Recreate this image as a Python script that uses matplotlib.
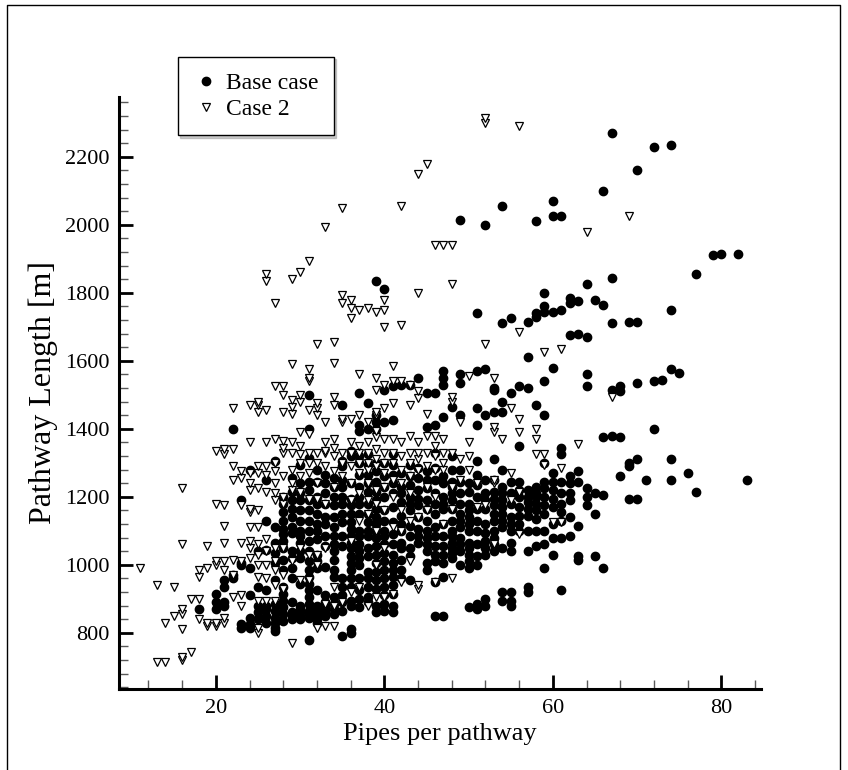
import matplotlib
matplotlib.use("Agg")
import matplotlib.pyplot as plt
from matplotlib.ticker import MultipleLocator
from matplotlib.lines import Line2D

plt.rcParams['font.family'] = ['Liberation Serif', 'DejaVu Serif']

# Base case: (pipes per pathway, pathway length)
base_points = [
    (18, 870),
    (20, 870), (20, 890), (20, 915),
    (21, 880), (21, 890), (21, 935), (21, 955),
    (22, 960), (22, 970), (22, 1400),
    (23, 815), (23, 825), (23, 1000), (23, 1005), (23, 1190),
    (24, 815), (24, 825), (24, 845), (24, 910), (24, 990), (24, 1280),
    (25, 840), (25, 860), (25, 880), (25, 935), (25, 1040),
    (26, 830), (26, 850), (26, 870), (26, 880), (26, 925), (26, 1045), (26, 1130), (26, 1250),
    (27, 805), (27, 815), (27, 830), (27, 845), (27, 865), (27, 885), (27, 955), (27, 1005),
    (27, 1035), (27, 1065), (27, 1110), (27, 1305),
    (28, 835), (28, 855), (28, 875), (28, 895), (28, 915), (28, 935), (28, 985), (28, 1015),
    (28, 1050), (28, 1070), (28, 1090), (28, 1105), (28, 1130), (28, 1155), (28, 1180), (28, 1200),
    (29, 840), (29, 850), (29, 860), (29, 890), (29, 960), (29, 990), (29, 1020), (29, 1040),
    (29, 1095), (29, 1110), (29, 1140), (29, 1165), (29, 1190), (29, 1215), (29, 1255),
    (30, 840), (30, 850), (30, 860), (30, 870), (30, 880), (30, 945), (30, 1020), (30, 1040),
    (30, 1065), (30, 1085), (30, 1100), (30, 1130), (30, 1160), (30, 1190), (30, 1210),
    (30, 1240), (30, 1295),
    (31, 780), (31, 845), (31, 855), (31, 865), (31, 885), (31, 905), (31, 925), (31, 945),
    (31, 965), (31, 985), (31, 1010), (31, 1040), (31, 1070), (31, 1100), (31, 1130), (31, 1160),
    (31, 1190), (31, 1220), (31, 1245), (31, 1315), (31, 1400), (31, 1500),
    (32, 830), (32, 840), (32, 850), (32, 860), (32, 870), (32, 880), (32, 925), (32, 990),
    (32, 1010), (32, 1030), (32, 1075), (32, 1100), (32, 1120), (32, 1150), (32, 1180),
    (32, 1200), (32, 1245), (32, 1280),
    (33, 850), (33, 860), (33, 870), (33, 880), (33, 890), (33, 910), (33, 995), (33, 1055),
    (33, 1085), (33, 1120), (33, 1140), (33, 1180), (33, 1210), (33, 1240), (33, 1265),
    (34, 855), (34, 870), (34, 885), (34, 905), (34, 965), (34, 985), (34, 1015), (34, 1040),
    (34, 1060), (34, 1085), (34, 1110), (34, 1140), (34, 1175), (34, 1200), (34, 1230), (34, 1255),
    (35, 790), (35, 865), (35, 890), (35, 910), (35, 935), (35, 960), (35, 1055), (35, 1085),
    (35, 1125), (35, 1150), (35, 1180), (35, 1200), (35, 1230), (35, 1250), (35, 1290),
    (35, 1305), (35, 1470),
    (36, 800), (36, 810), (36, 880), (36, 895), (36, 935), (36, 960), (36, 985), (36, 1005),
    (36, 1025), (36, 1050), (36, 1065), (36, 1085), (36, 1105), (36, 1125), (36, 1150),
    (36, 1175), (36, 1195), (36, 1240), (36, 1320), (36, 1335),
    (37, 875), (37, 900), (37, 925), (37, 960), (37, 1000), (37, 1020), (37, 1040), (37, 1060),
    (37, 1085), (37, 1100), (37, 1150), (37, 1180), (37, 1200), (37, 1230), (37, 1265),
    (37, 1300), (37, 1320), (37, 1395), (37, 1410), (37, 1505),
    (38, 890), (38, 905), (38, 935), (38, 960), (38, 980), (38, 1025), (38, 1050), (38, 1085),
    (38, 1100), (38, 1125), (38, 1150), (38, 1180), (38, 1215), (38, 1240), (38, 1265),
    (38, 1295), (38, 1325), (38, 1400), (38, 1475),
    (39, 860), (39, 880), (39, 930), (39, 955), (39, 980), (39, 1005), (39, 1030), (39, 1055),
    (39, 1080), (39, 1100), (39, 1120), (39, 1140), (39, 1165), (39, 1190), (39, 1215),
    (39, 1245), (39, 1275), (39, 1300), (39, 1400), (39, 1420), (39, 1440), (39, 1835),
    (40, 865), (40, 885), (40, 910), (40, 935), (40, 960), (40, 985), (40, 1010), (40, 1035),
    (40, 1060), (40, 1085), (40, 1100), (40, 1130), (40, 1160), (40, 1200), (40, 1230),
    (40, 1260), (40, 1300), (40, 1420), (40, 1515), (40, 1810),
    (41, 860), (41, 880), (41, 915), (41, 940), (41, 965), (41, 985), (41, 1005), (41, 1030),
    (41, 1060), (41, 1090), (41, 1125), (41, 1170), (41, 1210), (41, 1240), (41, 1265),
    (41, 1295), (41, 1325), (41, 1425), (41, 1525),
    (42, 960), (42, 985), (42, 1015), (42, 1050), (42, 1065), (42, 1100), (42, 1120), (42, 1145),
    (42, 1185), (42, 1210), (42, 1230), (42, 1270), (42, 1530),
    (43, 955), (43, 1025), (43, 1050), (43, 1085), (43, 1115), (43, 1160), (43, 1180), (43, 1200),
    (43, 1235), (43, 1260), (43, 1295), (43, 1530),
    (44, 1065), (44, 1085), (44, 1105), (44, 1140), (44, 1175), (44, 1195), (44, 1220),
    (44, 1255), (44, 1285), (44, 1550),
    (45, 985), (45, 1005), (45, 1040), (45, 1060), (45, 1080), (45, 1100), (45, 1130), (45, 1165),
    (45, 1190), (45, 1225), (45, 1250), (45, 1275), (45, 1405), (45, 1505),
    (46, 850), (46, 950), (46, 1010), (46, 1030), (46, 1055), (46, 1085), (46, 1110), (46, 1150),
    (46, 1180), (46, 1210), (46, 1250), (46, 1285), (46, 1330), (46, 1410), (46, 1505),
    (47, 850), (47, 965), (47, 1005), (47, 1030), (47, 1055), (47, 1085), (47, 1120), (47, 1165),
    (47, 1180), (47, 1200), (47, 1240), (47, 1260), (47, 1435), (47, 1530), (47, 1550),
    (47, 1570),
    (48, 1020), (48, 1035), (48, 1050), (48, 1065), (48, 1085), (48, 1100), (48, 1130), (48, 1165),
    (48, 1190), (48, 1210), (48, 1230), (48, 1245), (48, 1280), (48, 1320), (48, 1465),
    (49, 1000), (49, 1040), (49, 1060), (49, 1080), (49, 1110), (49, 1130), (49, 1150), (49, 1180),
    (49, 1210), (49, 1245), (49, 1280), (49, 1440), (49, 1535), (49, 1560), (49, 2015),
    (50, 875), (50, 990), (50, 1010), (50, 1030), (50, 1050), (50, 1065), (50, 1100), (50, 1120),
    (50, 1140), (50, 1160), (50, 1180), (50, 1215), (50, 1240),
    (51, 870), (51, 885), (51, 1000), (51, 1025), (51, 1060), (51, 1100), (51, 1130), (51, 1165),
    (51, 1200), (51, 1235), (51, 1265), (51, 1305), (51, 1410), (51, 1460), (51, 1570), (51, 1740),
    (52, 880), (52, 900), (52, 1030), (52, 1050), (52, 1070), (52, 1095), (52, 1120), (52, 1165),
    (52, 1190), (52, 1210), (52, 1250), (52, 1440), (52, 1575), (52, 2000),
    (53, 1040), (53, 1060), (53, 1080), (53, 1100), (53, 1130), (53, 1150), (53, 1175),
    (53, 1195), (53, 1215), (53, 1250), (53, 1310), (53, 1450), (53, 1515), (53, 1520),
    (54, 895), (54, 920), (54, 1050), (54, 1110), (54, 1130), (54, 1150), (54, 1170), (54, 1190),
    (54, 1210), (54, 1230), (54, 1280), (54, 1450), (54, 1480), (54, 1710), (54, 2055),
    (55, 880), (55, 895), (55, 920), (55, 1040), (55, 1065), (55, 1100), (55, 1120), (55, 1140),
    (55, 1180), (55, 1210), (55, 1245), (55, 1505), (55, 1725),
    (56, 1100), (56, 1120), (56, 1145), (56, 1170), (56, 1200), (56, 1220), (56, 1245), (56, 1350),
    (56, 1525),
    (57, 920), (57, 935), (57, 1040), (57, 1100), (57, 1145), (57, 1165), (57, 1185), (57, 1200),
    (57, 1220), (57, 1520), (57, 1610), (57, 1715),
    (58, 1055), (58, 1100), (58, 1135), (58, 1160), (58, 1180), (58, 1200), (58, 1210),
    (58, 1230), (58, 1470), (58, 1730), (58, 1740), (58, 2010),
    (59, 990), (59, 1060), (59, 1100), (59, 1150), (59, 1175), (59, 1200), (59, 1225),
    (59, 1245), (59, 1300), (59, 1440), (59, 1540), (59, 1745), (59, 1760), (59, 1800),
    (60, 1030), (60, 1080), (60, 1120), (60, 1170), (60, 1195), (60, 1220), (60, 1245),
    (60, 1270), (60, 1580), (60, 1745), (60, 2025), (60, 2070),
    (61, 925), (61, 1080), (61, 1130), (61, 1155), (61, 1180), (61, 1210), (61, 1245), (61, 1325),
    (61, 1345), (61, 1750), (61, 2025),
    (62, 1085), (62, 1140), (62, 1190), (62, 1210), (62, 1240), (62, 1260), (62, 1675),
    (62, 1770), (62, 1785),
    (63, 1015), (63, 1025), (63, 1115), (63, 1245), (63, 1275), (63, 1680), (63, 1775),
    (64, 1175), (64, 1200), (64, 1225), (64, 1525), (64, 1560), (64, 1670), (64, 1825),
    (65, 1025), (65, 1150), (65, 1210), (65, 1780),
    (66, 990), (66, 1205), (66, 1375), (66, 1765), (66, 2100),
    (67, 1380), (67, 1515), (67, 1710), (67, 1845), (67, 2270),
    (68, 1260), (68, 1375), (68, 1510), (68, 1525),
    (69, 1195), (69, 1290), (69, 1300), (69, 1715),
    (70, 1195), (70, 1310), (70, 1535), (70, 1715), (70, 2160),
    (71, 1250),
    (72, 1400), (72, 1540), (72, 2230),
    (73, 1545),
    (74, 1250), (74, 1310), (74, 1575), (74, 1750), (74, 2235),
    (75, 1565),
    (76, 1270),
    (77, 1215), (77, 1855),
    (79, 1910), (80, 1915), (82, 1915), (83, 1250),
]

# Case 2
case2_points = [
    (11, 990),
    (13, 715), (13, 940),
    (14, 715), (14, 830),
    (15, 850), (15, 935),
    (16, 720), (16, 730), (16, 810), (16, 855), (16, 870), (16, 1060), (16, 1225),
    (17, 745), (17, 900),
    (18, 840), (18, 900), (18, 965), (18, 985),
    (19, 820), (19, 830), (19, 990), (19, 1055),
    (20, 820), (20, 830), (20, 1000), (20, 1010), (20, 1180), (20, 1335),
    (21, 830), (21, 845), (21, 985), (21, 1010), (21, 1065), (21, 1115), (21, 1175), (21, 1325),
    (21, 1340),
    (22, 905), (22, 970), (22, 1015), (22, 1250), (22, 1290), (22, 1340), (22, 1460),
    (23, 880), (23, 910), (23, 1010), (23, 1065), (23, 1175), (23, 1255), (23, 1275),
    (24, 1020), (24, 1050), (24, 1070), (24, 1110), (24, 1155), (24, 1165), (24, 1220), (24, 1240),
    (24, 1270), (24, 1360), (24, 1470),
    (25, 800), (25, 815), (25, 895), (25, 965), (25, 1000), (25, 1030), (25, 1060), (25, 1110),
    (25, 1160), (25, 1225), (25, 1270), (25, 1290), (25, 1450), (25, 1470), (25, 1480),
    (26, 895), (26, 960), (26, 1000), (26, 1040), (26, 1075), (26, 1215), (26, 1265), (26, 1290),
    (26, 1360), (26, 1455), (26, 1835), (26, 1855),
    (27, 895), (27, 940), (27, 985), (27, 1010), (27, 1050), (27, 1190), (27, 1210), (27, 1240),
    (27, 1275), (27, 1300), (27, 1370), (27, 1525), (27, 1770),
    (28, 930), (28, 970), (28, 1050), (28, 1180), (28, 1200), (28, 1260), (28, 1330), (28, 1345),
    (28, 1365), (28, 1450), (28, 1500), (28, 1525),
    (29, 770), (29, 1010), (29, 1220), (29, 1240), (29, 1280), (29, 1330), (29, 1360), (29, 1445),
    (29, 1465), (29, 1485), (29, 1590), (29, 1840),
    (30, 955), (30, 1050), (30, 1215), (30, 1260), (30, 1300), (30, 1325), (30, 1350), (30, 1390),
    (30, 1480), (30, 1500), (30, 1860),
    (31, 955), (31, 1030), (31, 1195), (31, 1270), (31, 1300), (31, 1330), (31, 1385), (31, 1455),
    (31, 1540), (31, 1550), (31, 1575), (31, 1895),
    (32, 815), (32, 1000), (32, 1030), (32, 1195), (32, 1240), (32, 1300), (32, 1330), (32, 1440),
    (32, 1460), (32, 1475), (32, 1650),
    (33, 820), (33, 885), (33, 1050), (33, 1180), (33, 1290), (33, 1330), (33, 1335), (33, 1360),
    (33, 1420), (33, 1995),
    (34, 820), (34, 880), (34, 935), (34, 1230), (34, 1275), (34, 1320), (34, 1345), (34, 1370),
    (34, 1470), (34, 1495), (34, 1595), (34, 1655),
    (35, 890), (35, 1260), (35, 1300), (35, 1330), (35, 1420), (35, 1430), (35, 1770), (35, 1795),
    (35, 2050),
    (36, 920), (36, 1070), (36, 1190), (36, 1240), (36, 1290), (36, 1330), (36, 1360), (36, 1430),
    (36, 1725), (36, 1755), (36, 1780),
    (37, 935), (37, 1130), (37, 1210), (37, 1270), (37, 1300), (37, 1330), (37, 1350), (37, 1440),
    (37, 1560), (37, 1750),
    (38, 880), (38, 1150), (38, 1190), (38, 1240), (38, 1280), (38, 1300), (38, 1330), (38, 1360),
    (38, 1420), (38, 1755),
    (39, 905), (39, 1000), (39, 1100), (39, 1180), (39, 1220), (39, 1290), (39, 1310), (39, 1340),
    (39, 1375), (39, 1395), (39, 1440), (39, 1450), (39, 1515), (39, 1550), (39, 1745),
    (40, 905), (40, 1050), (40, 1160), (40, 1230), (40, 1270), (40, 1300), (40, 1330), (40, 1370),
    (40, 1460), (40, 1530), (40, 1700), (40, 1750), (40, 1780),
    (41, 915), (41, 1110), (41, 1200), (41, 1250), (41, 1300), (41, 1330), (41, 1370), (41, 1475),
    (41, 1540), (41, 1585),
    (42, 950), (42, 1100), (42, 1160), (42, 1240), (42, 1280), (42, 1320), (42, 1360), (42, 1540),
    (42, 1705), (42, 2055),
    (43, 1010), (43, 1130), (43, 1210), (43, 1260), (43, 1300), (43, 1330), (43, 1380), (43, 1470),
    (43, 1530),
    (44, 930), (44, 940), (44, 1140), (44, 1280), (44, 1310), (44, 1330), (44, 1360), (44, 1490),
    (44, 1510), (44, 1800), (44, 2150),
    (45, 1160), (45, 1230), (45, 1290), (45, 1330), (45, 1380), (45, 1445), (45, 2180),
    (46, 950), (46, 1200), (46, 1280), (46, 1320), (46, 1350), (46, 1380), (46, 1940),
    (47, 1120), (47, 1280), (47, 1300), (47, 1330), (47, 1370), (47, 1940),
    (48, 960), (48, 1165), (48, 1230), (48, 1330), (48, 1480), (48, 1495), (48, 1825), (48, 1940),
    (49, 1250), (49, 1310), (49, 1420),
    (50, 1280), (50, 1320), (50, 1360), (50, 1555),
    (51, 1170), (51, 1240),
    (52, 1175), (52, 1650), (52, 2300), (52, 2315),
    (53, 1060), (53, 1240), (53, 1250), (53, 1390), (53, 1405), (53, 1550),
    (54, 1370),
    (55, 1190), (55, 1270), (55, 1460),
    (56, 1090), (56, 1215), (56, 1390), (56, 1430), (56, 1685), (56, 2290),
    (58, 1325), (58, 1370), (58, 1400),
    (59, 1295), (59, 1325), (59, 1625),
    (60, 1125),
    (61, 1125), (61, 1285), (61, 1635),
    (63, 1355),
    (64, 1980),
    (67, 1495),
    (69, 2025),
]

base_x, base_y = zip(*base_points)
case2_x, case2_y = zip(*case2_points)

fig = plt.figure(figsize=(8.48, 7.7), dpi=100)
ax = fig.add_axes([119 / 848, 1 - 689 / 770, 642 / 848, 592 / 770])

ax.plot(base_x, base_y, linestyle="none", marker="o", markersize=6,
        markerfacecolor="black", markeredgecolor="black", label="Base case")
ax.plot(case2_x, case2_y, linestyle="none", marker="v", markersize=5.5,
        markerfacecolor="white", markeredgecolor="black", markeredgewidth=0.9,
        label="Case 2")

ax.set_xlim(8.5, 84.7)
ax.set_ylim(635, 2376)
ax.xaxis.set_major_locator(MultipleLocator(20))
ax.xaxis.set_minor_locator(MultipleLocator(4))
ax.yaxis.set_major_locator(MultipleLocator(200))
ax.yaxis.set_minor_locator(MultipleLocator(40))

for side in ["top", "right"]:
    ax.spines[side].set_visible(False)
for side in ["left", "bottom"]:
    ax.spines[side].set_linewidth(2.2)

ax.tick_params(which="major", direction="in", length=10, width=2, pad=7, labelsize=16)
ax.tick_params(which="minor", direction="in", length=6.5, width=1, color="0.35")

ax.set_xlabel("Pipes per pathway", fontsize=19, labelpad=4)
ax.set_ylabel("Pathway Length [m]", fontsize=23, labelpad=5)

leg = ax.legend(loc="upper left", bbox_to_anchor=(178 / 848, 1 - 57 / 770),
                bbox_transform=fig.transFigure, borderaxespad=0, fontsize=17,
                fancybox=False, frameon=True, handlelength=1.08, handletextpad=0.31,
                borderpad=0.65, labelspacing=0.2,
                shadow={"ox": 1.5, "oy": -1.5, "shade": 0.4})
leg.get_frame().set_edgecolor("black")
leg.get_frame().set_linewidth(1.0)

# frame around the whole picture
fig.add_artist(Line2D([7 / 848, 7 / 848, 840 / 848, 840 / 848],
                      [0, 1 - 5 / 770, 1 - 5 / 770, 0],
                      transform=fig.transFigure, color="black", linewidth=1.0))

fig.savefig("out.png", dpi=100)
